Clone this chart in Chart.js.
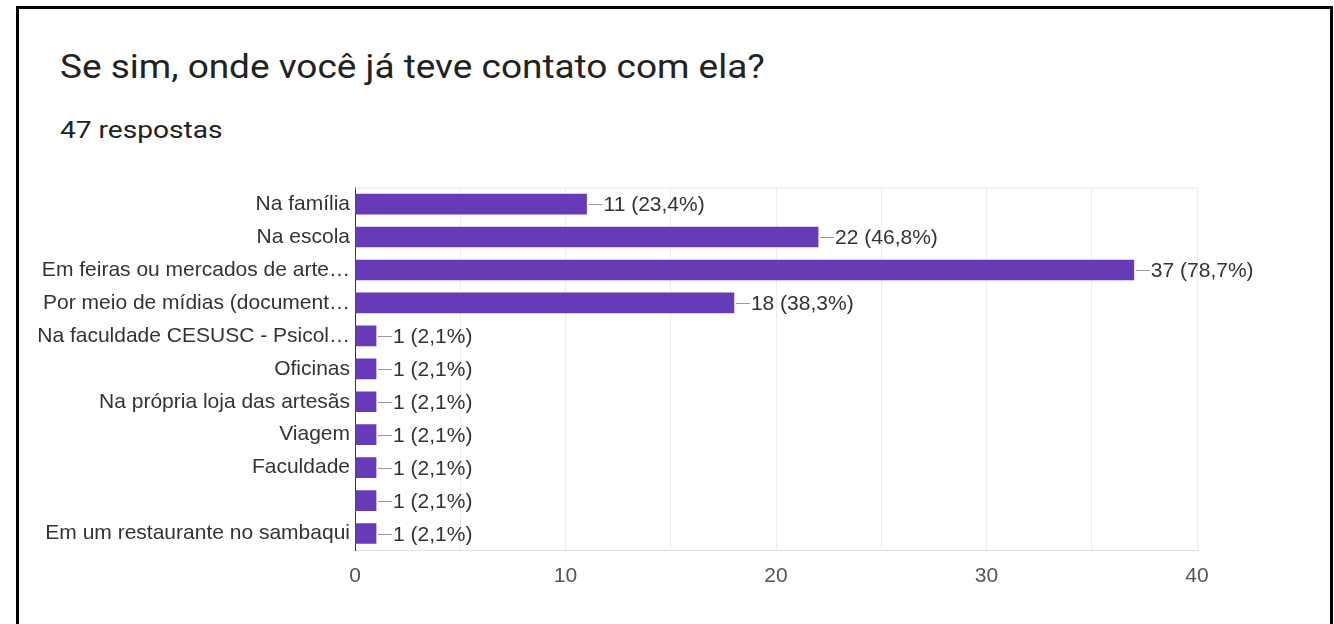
<!DOCTYPE html>
<html>
<head>
<meta charset="utf-8">
<script src="https://cdn.jsdelivr.net/npm/chart.js@4"></script>
<style>
  body { margin: 0; width: 1334px; height: 624px; background: #fff; position: relative; overflow: hidden; }
  .frame { position: absolute; left: 16px; top: 6px; width: 1311px; height: 640px;
           border-left: 3px solid #000; border-top: 3px solid #000; border-right: 3px solid #000; }
  h1 { position: absolute; left: 60px; top: 47px; margin: 0; font: 400 33px Roboto, sans-serif; color: #222;
       transform: scaleX(1.12); transform-origin: 0 0; white-space: nowrap; }
  .sub { position: absolute; left: 60px; top: 116px; margin: 0; font: 400 24px Roboto, sans-serif; color: #222;
         transform: scaleX(1.17); transform-origin: 0 0; white-space: nowrap; }
  #wrap { position: absolute; left: 0; top: 170px; width: 1334px; height: 430px; }
</style>
</head>
<body>
<div class="frame"></div>
<h1>Se sim, onde você já teve contato com ela?</h1>
<p class="sub">47 respostas</p>
<div id="wrap"><canvas id="chart"></canvas></div>
<script>
  const categories = [
    "Na família",
    "Na escola",
    "Em feiras ou mercados de arte…",
    "Por meio de mídias (document…",
    "Na faculdade CESUSC - Psicol…",
    "Oficinas",
    "Na própria loja das artesãs",
    "Viagem",
    "Faculdade",
    "",
    "Em um restaurante no sambaqui"
  ];
  const counts = [11, 22, 37, 18, 1, 1, 1, 1, 1, 1, 1];
  const totalResponses = 47;
  const xTicks = [0, 10, 20, 30, 40];

  // value labels with a short connector line, like Google Forms
  const valueLabels = {
    id: "valueLabels",
    afterDatasetsDraw(chart) {
      const ctx = chart.ctx;
      const area = chart.chartArea;
      ctx.save();
      // top edge of the plot
      ctx.strokeStyle = "#e6e6e6";
      ctx.lineWidth = 1;
      ctx.beginPath();
      ctx.moveTo(area.left, area.top + 0.5);
      ctx.lineTo(area.right, area.top + 0.5);
      ctx.stroke();

      const meta = chart.getDatasetMeta(0);
      ctx.font = "21px 'Liberation Sans', Arial, sans-serif";
      ctx.fillStyle = "#333";
      ctx.textBaseline = "middle";
      meta.data.forEach((bar, i) => {
        const v = counts[i];
        const pct = ((v / totalResponses) * 100).toFixed(1).replace(".", ",");
        const x = bar.x;
        const y = Math.round(bar.y) + 0.5;
        ctx.strokeStyle = "#999";
        ctx.beginPath();
        ctx.moveTo(x + 2, y);
        ctx.lineTo(x + 16, y);
        ctx.stroke();
        ctx.fillText(v + " (" + pct + "%)", x + 17, y + 1);
      });
      ctx.restore();
    }
  };

  new Chart(document.getElementById("chart"), {
    type: "bar",
    data: {
      labels: categories,
      datasets: [
        {
          data: counts,
          backgroundColor: "#673ab7",
          barThickness: 20,
        },
      ],
    },
    options: {
      indexAxis: "y",
      responsive: true,
      maintainAspectRatio: false,
      animation: false,
      layout: { padding: { top: 8, right: 137, left: 0, bottom: 0 } },
      plugins: { legend: { display: false }, tooltip: { enabled: false } },
      scales: {
        x: {
          min: 0,
          max: 40,
          afterFit(scale) { scale.height = 50; },
          afterBuildTicks(scale) {
            scale.ticks = [];
            for (let v = 0; v <= 40; v += 5) scale.ticks.push({ value: v });
          },
          ticks: {
            autoSkip: false,
            padding: 14,
            color: "#555",
            font: { family: "'Liberation Sans', Arial, sans-serif", size: 21 },
            callback: (v) => (xTicks.includes(v) ? v : ""),
          },
          grid: { color: "#ececec", drawTicks: false },
          border: { color: "#e0e0e0" },
        },
        y: {
          afterFit(scale) { scale.width = 355; },
          ticks: {
            padding: 5,
            color: "#333",
            font: { family: "'Liberation Sans', Arial, sans-serif", size: 21 },
          },
          grid: { display: false, drawTicks: false },
          border: { color: "#333", width: 1 },
        },
      },
    },
    plugins: [valueLabels],
  });
</script>
</body>
</html>
